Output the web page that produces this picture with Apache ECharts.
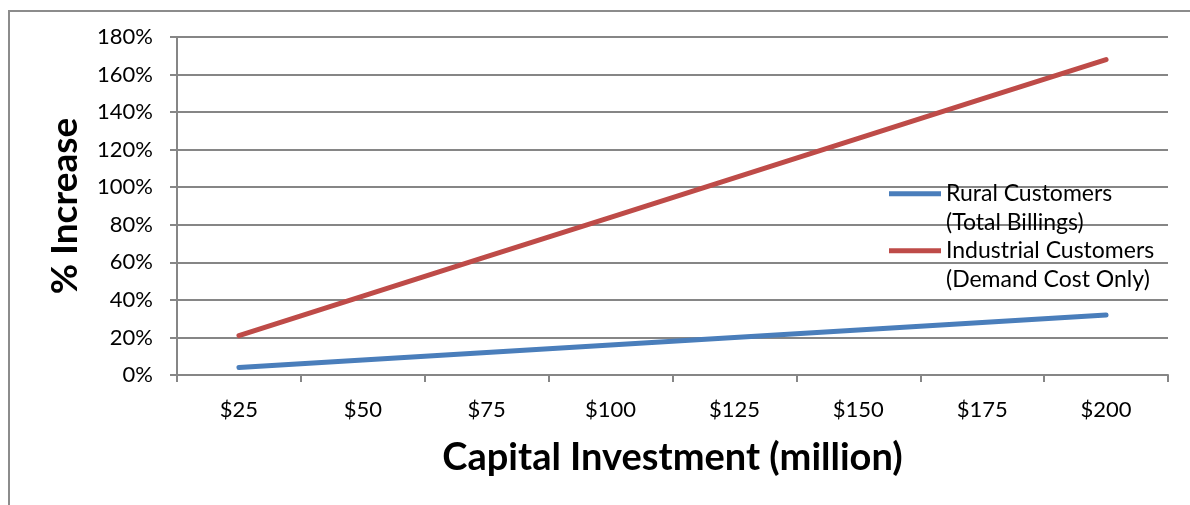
<!DOCTYPE html>
<html>
<head>
<meta charset="utf-8">
<script src="https://cdn.jsdelivr.net/npm/echarts@6/dist/echarts.min.js"></script>
<style>
html,body{margin:0;padding:0;background:#fff;}
#frame{position:absolute;left:8px;top:10px;width:1200px;height:520px;border:2px solid #8c8c8c;box-sizing:border-box;}
#c{position:absolute;left:0;top:0;width:1190px;height:505px;}
</style>
</head>
<body>
<div id="frame"></div>
<div id="c"></div>
<script>
const categories = ['$25','$50','$75','$100','$125','$150','$175','$200'];
const ruralValues = [4, 8, 12, 16, 20, 24, 28, 32];
const industrialValues = [21, 42, 63, 84, 105, 126, 147, 168];
const yTicks = { min: 0, max: 180, interval: 20 };
const seriesNames = ['Rural Customers\n(Total Billings)', 'Industrial Customers\n(Demand Cost Only)'];

const FONT = 'Lato';
const legendText = { fontFamily: FONT, fontSize: 23, color: '#000', lineHeight: 28.5 };
function legendFor(name, top) {
  return {
    orient: 'vertical', left: 889, top: top, padding: 0,
    itemWidth: 52, itemHeight: 5, icon: 'rect',
    data: [name],
    formatter: function (n) { return '\n' + n; },
    textStyle: legendText
  };
}
const chart = echarts.init(document.getElementById('c'), null, {renderer: 'canvas'});
chart.setOption({
  animation: false,
  backgroundColor: 'transparent',
  grid: { left: 177, right: 22, top: 37, bottom: 130, containLabel: false },
  legend: [legendFor(seriesNames[0], 151), legendFor(seriesNames[1], 208)],
  xAxis: {
    type: 'category',
    data: categories,
    boundaryGap: true,
    name: 'Capital Investment (million)',
    nameLocation: 'middle',
    nameGap: 64,
    nameTextStyle: { fontFamily: FONT, fontSize: 38, fontWeight: 'bold', color: '#000' },
    axisLine: { lineStyle: { color: '#868686', width: 2 } },
    axisTick: { show: true, length: 7, alignWithLabel: false, lineStyle: { color: '#868686', width: 2 } },
    axisLabel: { fontFamily: FONT, fontSize: 22, color: '#000', margin: 24 },
    splitLine: { show: false }
  },
  yAxis: {
    type: 'value',
    min: yTicks.min,
    max: yTicks.max,
    interval: yTicks.interval,
    name: '% Increase',
    nameLocation: 'middle',
    nameGap: 93,
    nameRotate: 90,
    nameTextStyle: { fontFamily: FONT, fontSize: 37, fontWeight: 'bold', color: '#000' },
    axisLine: { show: true, lineStyle: { color: '#868686', width: 2 } },
    axisTick: { show: true, length: 7, lineStyle: { color: '#868686', width: 2 } },
    axisLabel: { fontFamily: FONT, fontSize: 22, color: '#000', margin: 24, formatter: '{value}%' },
    splitLine: { show: true, lineStyle: { color: '#868686', width: 2 } }
  },
  series: [
    {
      name: seriesNames[0], type: 'line', data: ruralValues,
      showSymbol: false, symbol: 'none',
      lineStyle: { color: '#4a7ebb', width: 5, cap: 'round' },
      itemStyle: { color: '#4a7ebb' }
    },
    {
      name: seriesNames[1], type: 'line', data: industrialValues,
      showSymbol: false, symbol: 'none',
      lineStyle: { color: '#be4b48', width: 5, cap: 'round' },
      itemStyle: { color: '#be4b48' }
    }
  ]
});
</script>
</body>
</html>
